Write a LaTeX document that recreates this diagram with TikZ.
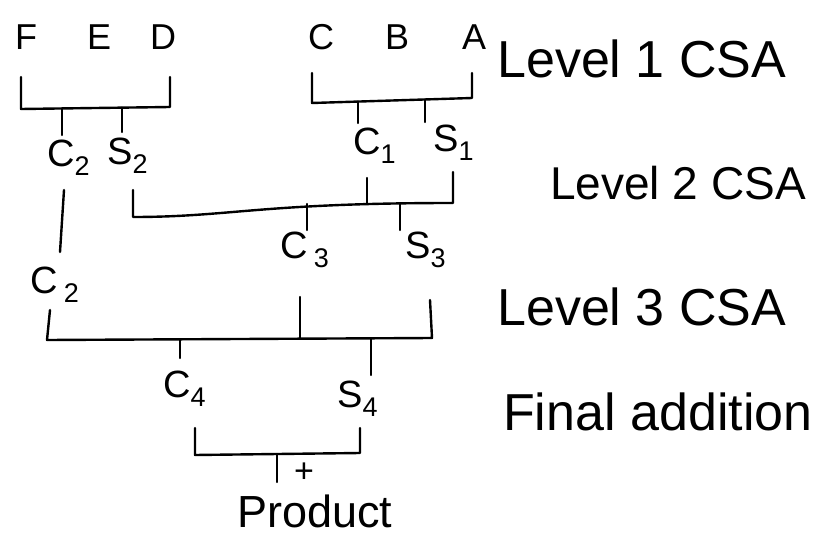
\documentclass[tikz,border=0pt]{standalone}
\usepackage{fontspec}
\setmainfont{Liberation Sans}
% lowered subscript for the carry / sum signal names
\newcommand\lowsub[1]{\raisebox{-9pt}{\fontsize{27}{30}\selectfont #1}}
\begin{document}
\begin{tikzpicture}[x=1pt,y=-1pt,
  wire/.style={line width=2.4pt, line cap=round, line join=round},
  inp/.style={font=\fontsize{36}{40}\selectfont, inner sep=0pt, anchor=base west},
  sig/.style={font=\fontsize{38}{42}\selectfont, inner sep=0pt, anchor=base west},
  lvl/.style={font=\fontsize{52}{60}\selectfont, inner sep=0pt, anchor=base west}]
\useasboundingbox (0,0) rectangle (840,540);

% ---- partial products ----
\node[inp] (F) at (15,50) {F};
\node[inp] (E) at (87,50) {E};
\node[inp] (D) at (150,50) {D};
\node[inp] (C) at (308,50) {C};
\node[inp] (B) at (385,50) {B};
\node[inp] (A) at (462,50) {A};

% ---- level 1: two carry-save adders ----
\coordinate (a1) at (21,77);  \coordinate (a2) at (21,109);
\coordinate (a3) at (170,107); \coordinate (a4) at (170,77);
\draw[wire] (a1) -- (a2) -- (a3) -- (a4);
\coordinate (ac) at (62,108.5);  \coordinate (acE) at (62,135);
\coordinate (as) at (122,107.7); \coordinate (asE) at (122,132);
\draw[wire] (ac) -- (acE);
\draw[wire] (as) -- (asE);

\coordinate (b1) at (312,73);  \coordinate (b2) at (312,103);
\coordinate (b3) at (472,98);  \coordinate (b4) at (472,73);
\draw[wire] (b1) -- (b2) -- (b3) -- (b4);
\coordinate (bc) at (358,101.6); \coordinate (bcE) at (358,123);
\coordinate (bs) at (425,99.5);  \coordinate (bsE) at (425,122);
\draw[wire] (bc) -- (bcE);
\draw[wire] (bs) -- (bsE);

\node[sig] (C2a) at (47,167) {C\lowsub{2}};
\node[sig] (S2)  at (107,165) {S\lowsub{2}};
\node[sig] (C1)  at (353,155) {C\lowsub{1}};
\node[sig] (S1)  at (433,152) {S\lowsub{1}};

% ---- level 2 ----
\coordinate (c1) at (133,190); \coordinate (c2) at (133,217);
\coordinate (c3) at (453,203); \coordinate (c4) at (453,172);
\draw[wire] (c1) -- (c2) .. controls (230,217) and (260,203) .. (c3) -- (c4);
\coordinate (cin) at (367,178); \coordinate (cinE) at (367,203.5);
\draw[wire] (cin) -- (cinE);
\coordinate (cc) at (307,204); \coordinate (ccE) at (307,230);
\coordinate (cs) at (400,203.3); \coordinate (csE) at (400,230);
\draw[wire] (cc) -- (ccE);
\draw[wire] (cs) -- (csE);

% C2 passes straight down to level 3
\coordinate (p1) at (64,190); \coordinate (p2) at (60,252);
\draw[wire] (p1) -- (p2);

\node[sig] (C3)  at (280,258) {C\,\lowsub{3}};
\node[sig] (S3)  at (405,258) {S\lowsub{3}};
\node[sig] (C2b) at (30,293) {C\,\lowsub{2}};

% ---- level 3 ----
\coordinate (d1) at (50,310);  \coordinate (d2) at (47,340);
\coordinate (d3) at (432,338); \coordinate (d4) at (430,300);
\draw[wire] (d1) -- (d2) -- (d3) -- (d4);
\coordinate (dm) at (300,297); \coordinate (dmE) at (300,338.7);
\draw[wire] (dm) -- (dmE);
\coordinate (dc) at (180,339.3); \coordinate (dcE) at (180,358);
\coordinate (ds) at (371,338.3); \coordinate (dsE) at (371,375);
\draw[wire] (dc) -- (dcE);
\draw[wire] (ds) -- (dsE);

\node[sig] (C4) at (163,397) {C\lowsub{4}};
\node[sig] (S4) at (337,407) {S\lowsub{4}};

% ---- final addition ----
\coordinate (e1) at (195,428); \coordinate (e2) at (195,455);
\coordinate (e3) at (360,453); \coordinate (e4) at (360,428);
\draw[wire] (e1) -- (e2) -- (e3) -- (e4);
\coordinate (eo) at (277,454); \coordinate (eoE) at (277,482);
\draw[wire] (eo) -- (eoE);
\node[font=\fontsize{34}{36}\selectfont, inner sep=0pt] (plus) at (304,473) {+};
\node[font=\fontsize{45}{50}\selectfont, inner sep=0pt, anchor=base west] (prod) at (237,527) {Product};

% ---- level captions ----
\node[lvl] (L1) at (497,78)  {Level 1 CSA};
\node[lvl, font=\fontsize{46}{54}\selectfont] (L2) at (550,200) {Level 2 CSA};
\node[lvl] (L3) at (497,325) {Level 3 CSA};
\node[lvl] (L4) at (503,430) {Final addition};
\end{tikzpicture}
\end{document}
